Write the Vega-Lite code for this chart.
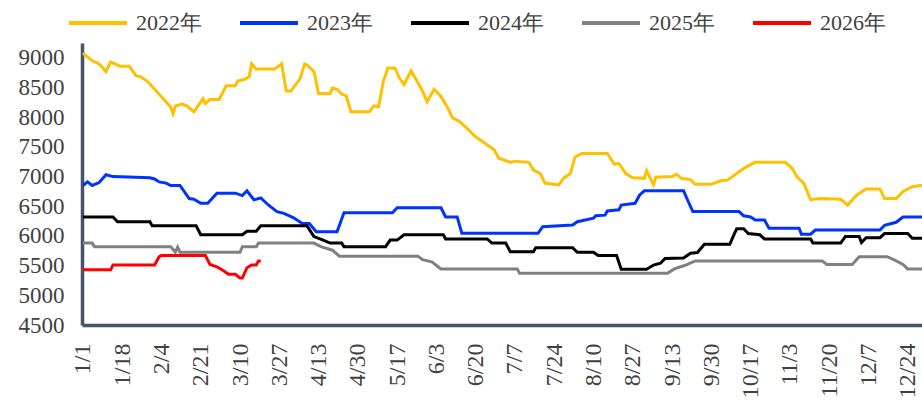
{
  "$schema": "https://vega.github.io/schema/vega-lite/v6.json",
  "width": 840,
  "height": 282,
  "autosize": {"type": "none"},
  "padding": {"left": 82, "top": 43, "right": 0, "bottom": 76},
  "background": "white",
  "config": {"view": {"stroke": null}, "font": "Liberation Serif"},
  "data": {
    "values": [
      {"year": "2022年", "date": "01-01", "price": 9080},
      {"year": "2022年", "date": "01-05", "price": 8950},
      {"year": "2022年", "date": "01-08", "price": 8900},
      {"year": "2022年", "date": "01-11", "price": 8770},
      {"year": "2022年", "date": "01-13", "price": 8930},
      {"year": "2022年", "date": "01-17", "price": 8860},
      {"year": "2022年", "date": "01-21", "price": 8860},
      {"year": "2022年", "date": "01-24", "price": 8700},
      {"year": "2022年", "date": "01-26", "price": 8680},
      {"year": "2022年", "date": "01-29", "price": 8600},
      {"year": "2022年", "date": "02-08", "price": 8170},
      {"year": "2022年", "date": "02-09", "price": 8060},
      {"year": "2022年", "date": "02-10", "price": 8190},
      {"year": "2022年", "date": "02-13", "price": 8220},
      {"year": "2022年", "date": "02-15", "price": 8190},
      {"year": "2022年", "date": "02-18", "price": 8090},
      {"year": "2022年", "date": "02-22", "price": 8310},
      {"year": "2022年", "date": "02-23", "price": 8230},
      {"year": "2022年", "date": "02-25", "price": 8300},
      {"year": "2022年", "date": "03-01", "price": 8300},
      {"year": "2022年", "date": "03-04", "price": 8530},
      {"year": "2022年", "date": "03-08", "price": 8530},
      {"year": "2022年", "date": "03-09", "price": 8610},
      {"year": "2022年", "date": "03-12", "price": 8640},
      {"year": "2022年", "date": "03-14", "price": 8680},
      {"year": "2022年", "date": "03-15", "price": 8900},
      {"year": "2022年", "date": "03-17", "price": 8810},
      {"year": "2022年", "date": "03-25", "price": 8810},
      {"year": "2022年", "date": "03-28", "price": 8900},
      {"year": "2022年", "date": "03-30", "price": 8440},
      {"year": "2022年", "date": "04-01", "price": 8440},
      {"year": "2022年", "date": "04-05", "price": 8650},
      {"year": "2022年", "date": "04-07", "price": 8900},
      {"year": "2022年", "date": "04-08", "price": 8880},
      {"year": "2022年", "date": "04-11", "price": 8770},
      {"year": "2022年", "date": "04-13", "price": 8400},
      {"year": "2022年", "date": "04-18", "price": 8400},
      {"year": "2022年", "date": "04-19", "price": 8490},
      {"year": "2022年", "date": "04-21", "price": 8470},
      {"year": "2022年", "date": "04-23", "price": 8390},
      {"year": "2022年", "date": "04-25", "price": 8360},
      {"year": "2022年", "date": "04-27", "price": 8090},
      {"year": "2022年", "date": "05-05", "price": 8090},
      {"year": "2022年", "date": "05-07", "price": 8190},
      {"year": "2022年", "date": "05-09", "price": 8180},
      {"year": "2022年", "date": "05-11", "price": 8600},
      {"year": "2022年", "date": "05-13", "price": 8830},
      {"year": "2022年", "date": "05-16", "price": 8830},
      {"year": "2022年", "date": "05-18", "price": 8660},
      {"year": "2022年", "date": "05-20", "price": 8550},
      {"year": "2022年", "date": "05-23", "price": 8780},
      {"year": "2022年", "date": "05-25", "price": 8650},
      {"year": "2022年", "date": "05-28", "price": 8440},
      {"year": "2022年", "date": "05-30", "price": 8260},
      {"year": "2022年", "date": "06-02", "price": 8470},
      {"year": "2022年", "date": "06-05", "price": 8350},
      {"year": "2022年", "date": "06-08", "price": 8150},
      {"year": "2022年", "date": "06-10", "price": 7990},
      {"year": "2022年", "date": "06-13", "price": 7930},
      {"year": "2022年", "date": "06-16", "price": 7820},
      {"year": "2022年", "date": "06-20", "price": 7670},
      {"year": "2022年", "date": "06-24", "price": 7560},
      {"year": "2022年", "date": "06-28", "price": 7450},
      {"year": "2022年", "date": "06-30", "price": 7310},
      {"year": "2022年", "date": "07-05", "price": 7240},
      {"year": "2022年", "date": "07-07", "price": 7260},
      {"year": "2022年", "date": "07-13", "price": 7240},
      {"year": "2022年", "date": "07-15", "price": 7110},
      {"year": "2022年", "date": "07-18", "price": 7050},
      {"year": "2022年", "date": "07-20", "price": 6890},
      {"year": "2022年", "date": "07-26", "price": 6860},
      {"year": "2022年", "date": "07-28", "price": 6970},
      {"year": "2022年", "date": "07-31", "price": 7050},
      {"year": "2022年", "date": "08-02", "price": 7330},
      {"year": "2022年", "date": "08-05", "price": 7390},
      {"year": "2022年", "date": "08-16", "price": 7390},
      {"year": "2022年", "date": "08-19", "price": 7210},
      {"year": "2022年", "date": "08-21", "price": 7220},
      {"year": "2022年", "date": "08-24", "price": 7050},
      {"year": "2022年", "date": "08-27", "price": 6980},
      {"year": "2022年", "date": "09-01", "price": 6970},
      {"year": "2022年", "date": "09-02", "price": 7100},
      {"year": "2022年", "date": "09-05", "price": 6860},
      {"year": "2022年", "date": "09-06", "price": 6990},
      {"year": "2022年", "date": "09-13", "price": 7000},
      {"year": "2022年", "date": "09-15", "price": 7040},
      {"year": "2022年", "date": "09-17", "price": 6970},
      {"year": "2022年", "date": "09-21", "price": 6950},
      {"year": "2022年", "date": "09-23", "price": 6870},
      {"year": "2022年", "date": "09-30", "price": 6870},
      {"year": "2022年", "date": "10-04", "price": 6930},
      {"year": "2022年", "date": "10-07", "price": 6940},
      {"year": "2022年", "date": "10-12", "price": 7080},
      {"year": "2022年", "date": "10-15", "price": 7160},
      {"year": "2022年", "date": "10-19", "price": 7240},
      {"year": "2022年", "date": "11-01", "price": 7240},
      {"year": "2022年", "date": "11-04", "price": 7140},
      {"year": "2022年", "date": "11-06", "price": 7000},
      {"year": "2022年", "date": "11-09", "price": 6890},
      {"year": "2022年", "date": "11-12", "price": 6610},
      {"year": "2022年", "date": "11-16", "price": 6630},
      {"year": "2022年", "date": "11-25", "price": 6620},
      {"year": "2022年", "date": "11-28", "price": 6520},
      {"year": "2022年", "date": "12-02", "price": 6690},
      {"year": "2022年", "date": "12-06", "price": 6790},
      {"year": "2022年", "date": "12-12", "price": 6790},
      {"year": "2022年", "date": "12-14", "price": 6630},
      {"year": "2022年", "date": "12-19", "price": 6630},
      {"year": "2022年", "date": "12-22", "price": 6750},
      {"year": "2022年", "date": "12-26", "price": 6830},
      {"year": "2022年", "date": "12-31", "price": 6860},

      {"year": "2023年", "date": "01-01", "price": 6850},
      {"year": "2023年", "date": "01-03", "price": 6910},
      {"year": "2023年", "date": "01-05", "price": 6850},
      {"year": "2023年", "date": "01-08", "price": 6900},
      {"year": "2023年", "date": "01-11", "price": 7030},
      {"year": "2023年", "date": "01-14", "price": 7000},
      {"year": "2023年", "date": "01-30", "price": 6980},
      {"year": "2023年", "date": "02-01", "price": 6960},
      {"year": "2023年", "date": "02-03", "price": 6910},
      {"year": "2023年", "date": "02-06", "price": 6890},
      {"year": "2023年", "date": "02-08", "price": 6850},
      {"year": "2023年", "date": "02-12", "price": 6850},
      {"year": "2023年", "date": "02-16", "price": 6630},
      {"year": "2023年", "date": "02-18", "price": 6620},
      {"year": "2023年", "date": "02-21", "price": 6550},
      {"year": "2023年", "date": "02-24", "price": 6550},
      {"year": "2023年", "date": "02-28", "price": 6720},
      {"year": "2023年", "date": "03-08", "price": 6720},
      {"year": "2023年", "date": "03-11", "price": 6680},
      {"year": "2023年", "date": "03-13", "price": 6760},
      {"year": "2023年", "date": "03-16", "price": 6610},
      {"year": "2023年", "date": "03-19", "price": 6640},
      {"year": "2023年", "date": "03-22", "price": 6530},
      {"year": "2023年", "date": "03-26", "price": 6410},
      {"year": "2023年", "date": "03-29", "price": 6380},
      {"year": "2023年", "date": "04-02", "price": 6310},
      {"year": "2023年", "date": "04-06", "price": 6210},
      {"year": "2023年", "date": "04-09", "price": 6210},
      {"year": "2023年", "date": "04-12", "price": 6070},
      {"year": "2023年", "date": "04-21", "price": 6070},
      {"year": "2023年", "date": "04-24", "price": 6390},
      {"year": "2023年", "date": "05-15", "price": 6390},
      {"year": "2023年", "date": "05-17", "price": 6475},
      {"year": "2023年", "date": "06-05", "price": 6475},
      {"year": "2023年", "date": "06-07", "price": 6320},
      {"year": "2023年", "date": "06-12", "price": 6320},
      {"year": "2023年", "date": "06-14", "price": 6045},
      {"year": "2023年", "date": "07-17", "price": 6045},
      {"year": "2023年", "date": "07-19", "price": 6155},
      {"year": "2023年", "date": "08-01", "price": 6185},
      {"year": "2023年", "date": "08-03", "price": 6240},
      {"year": "2023年", "date": "08-10", "price": 6300},
      {"year": "2023年", "date": "08-11", "price": 6340},
      {"year": "2023年", "date": "08-15", "price": 6350},
      {"year": "2023年", "date": "08-16", "price": 6420},
      {"year": "2023年", "date": "08-21", "price": 6440},
      {"year": "2023年", "date": "08-22", "price": 6520},
      {"year": "2023年", "date": "08-28", "price": 6550},
      {"year": "2023年", "date": "08-30", "price": 6690},
      {"year": "2023年", "date": "09-01", "price": 6760},
      {"year": "2023年", "date": "09-18", "price": 6760},
      {"year": "2023年", "date": "09-20", "price": 6580},
      {"year": "2023年", "date": "09-22", "price": 6410},
      {"year": "2023年", "date": "10-12", "price": 6410},
      {"year": "2023年", "date": "10-14", "price": 6340},
      {"year": "2023年", "date": "10-17", "price": 6320},
      {"year": "2023年", "date": "10-19", "price": 6270},
      {"year": "2023年", "date": "10-23", "price": 6270},
      {"year": "2023年", "date": "10-25", "price": 6130},
      {"year": "2023年", "date": "11-07", "price": 6130},
      {"year": "2023年", "date": "11-08", "price": 6030},
      {"year": "2023年", "date": "11-12", "price": 6030},
      {"year": "2023年", "date": "11-14", "price": 6100},
      {"year": "2023年", "date": "12-12", "price": 6100},
      {"year": "2023年", "date": "12-14", "price": 6180},
      {"year": "2023年", "date": "12-19", "price": 6230},
      {"year": "2023年", "date": "12-22", "price": 6320},
      {"year": "2023年", "date": "12-31", "price": 6320},

      {"year": "2024年", "date": "01-01", "price": 6320},
      {"year": "2024年", "date": "01-14", "price": 6320},
      {"year": "2024年", "date": "01-16", "price": 6240},
      {"year": "2024年", "date": "01-30", "price": 6240},
      {"year": "2024年", "date": "01-31", "price": 6170},
      {"year": "2024年", "date": "02-19", "price": 6170},
      {"year": "2024年", "date": "02-21", "price": 6020},
      {"year": "2024年", "date": "03-11", "price": 6020},
      {"year": "2024年", "date": "03-13", "price": 6080},
      {"year": "2024年", "date": "03-17", "price": 6080},
      {"year": "2024年", "date": "03-19", "price": 6170},
      {"year": "2024年", "date": "04-08", "price": 6170},
      {"year": "2024年", "date": "04-11", "price": 5990},
      {"year": "2024年", "date": "04-15", "price": 5930},
      {"year": "2024年", "date": "04-18", "price": 5880},
      {"year": "2024年", "date": "04-23", "price": 5880},
      {"year": "2024年", "date": "04-24", "price": 5820},
      {"year": "2024年", "date": "05-12", "price": 5820},
      {"year": "2024年", "date": "05-14", "price": 5930},
      {"year": "2024年", "date": "05-17", "price": 5930},
      {"year": "2024年", "date": "05-20", "price": 6020},
      {"year": "2024年", "date": "06-06", "price": 6020},
      {"year": "2024年", "date": "06-07", "price": 5950},
      {"year": "2024年", "date": "06-25", "price": 5950},
      {"year": "2024年", "date": "06-27", "price": 5880},
      {"year": "2024年", "date": "07-03", "price": 5880},
      {"year": "2024年", "date": "07-05", "price": 5735},
      {"year": "2024年", "date": "07-15", "price": 5735},
      {"year": "2024年", "date": "07-16", "price": 5800},
      {"year": "2024年", "date": "08-01", "price": 5800},
      {"year": "2024年", "date": "08-03", "price": 5725},
      {"year": "2024年", "date": "08-10", "price": 5725},
      {"year": "2024年", "date": "08-12", "price": 5670},
      {"year": "2024年", "date": "08-20", "price": 5670},
      {"year": "2024年", "date": "08-22", "price": 5440},
      {"year": "2024年", "date": "09-02", "price": 5440},
      {"year": "2024年", "date": "09-05", "price": 5510},
      {"year": "2024年", "date": "09-08", "price": 5540},
      {"year": "2024年", "date": "09-10", "price": 5620},
      {"year": "2024年", "date": "09-18", "price": 5630},
      {"year": "2024年", "date": "09-21", "price": 5710},
      {"year": "2024年", "date": "09-24", "price": 5720},
      {"year": "2024年", "date": "09-27", "price": 5860},
      {"year": "2024年", "date": "10-08", "price": 5860},
      {"year": "2024年", "date": "10-10", "price": 6040},
      {"year": "2024年", "date": "10-11", "price": 6120},
      {"year": "2024年", "date": "10-14", "price": 6120},
      {"year": "2024年", "date": "10-16", "price": 6040},
      {"year": "2024年", "date": "10-21", "price": 6020},
      {"year": "2024年", "date": "10-23", "price": 5950},
      {"year": "2024年", "date": "11-12", "price": 5950},
      {"year": "2024年", "date": "11-13", "price": 5880},
      {"year": "2024年", "date": "11-25", "price": 5880},
      {"year": "2024年", "date": "11-27", "price": 5990},
      {"year": "2024年", "date": "12-03", "price": 5990},
      {"year": "2024年", "date": "12-04", "price": 5890},
      {"year": "2024年", "date": "12-06", "price": 5970},
      {"year": "2024年", "date": "12-12", "price": 5970},
      {"year": "2024年", "date": "12-14", "price": 6040},
      {"year": "2024年", "date": "12-24", "price": 6040},
      {"year": "2024年", "date": "12-26", "price": 5960},
      {"year": "2024年", "date": "12-31", "price": 5960},

      {"year": "2025年", "date": "01-01", "price": 5880},
      {"year": "2025年", "date": "01-05", "price": 5880},
      {"year": "2025年", "date": "01-06", "price": 5820},
      {"year": "2025年", "date": "02-08", "price": 5820},
      {"year": "2025年", "date": "02-10", "price": 5725},
      {"year": "2025年", "date": "02-11", "price": 5810},
      {"year": "2025年", "date": "02-12", "price": 5725},
      {"year": "2025年", "date": "03-10", "price": 5725},
      {"year": "2025年", "date": "03-11", "price": 5820},
      {"year": "2025年", "date": "03-17", "price": 5820},
      {"year": "2025年", "date": "03-18", "price": 5880},
      {"year": "2025年", "date": "04-11", "price": 5880},
      {"year": "2025年", "date": "04-14", "price": 5820},
      {"year": "2025年", "date": "04-19", "price": 5760},
      {"year": "2025年", "date": "04-22", "price": 5660},
      {"year": "2025年", "date": "05-26", "price": 5660},
      {"year": "2025年", "date": "05-28", "price": 5600},
      {"year": "2025年", "date": "06-01", "price": 5565},
      {"year": "2025年", "date": "06-05", "price": 5445},
      {"year": "2025年", "date": "07-08", "price": 5445},
      {"year": "2025年", "date": "07-09", "price": 5370},
      {"year": "2025年", "date": "09-11", "price": 5370},
      {"year": "2025年", "date": "09-14", "price": 5445},
      {"year": "2025年", "date": "09-19", "price": 5510},
      {"year": "2025年", "date": "09-23", "price": 5580},
      {"year": "2025年", "date": "11-17", "price": 5580},
      {"year": "2025年", "date": "11-19", "price": 5520},
      {"year": "2025年", "date": "11-30", "price": 5520},
      {"year": "2025年", "date": "12-03", "price": 5650},
      {"year": "2025年", "date": "12-15", "price": 5650},
      {"year": "2025年", "date": "12-18", "price": 5600},
      {"year": "2025年", "date": "12-22", "price": 5520},
      {"year": "2025年", "date": "12-24", "price": 5445},
      {"year": "2025年", "date": "12-31", "price": 5445},

      {"year": "2026年", "date": "01-01", "price": 5430},
      {"year": "2026年", "date": "01-13", "price": 5430},
      {"year": "2026年", "date": "01-14", "price": 5510},
      {"year": "2026年", "date": "02-01", "price": 5510},
      {"year": "2026年", "date": "02-03", "price": 5650},
      {"year": "2026年", "date": "02-04", "price": 5670},
      {"year": "2026年", "date": "02-23", "price": 5670},
      {"year": "2026年", "date": "02-25", "price": 5520},
      {"year": "2026年", "date": "02-28", "price": 5480},
      {"year": "2026年", "date": "03-03", "price": 5410},
      {"year": "2026年", "date": "03-05", "price": 5355},
      {"year": "2026年", "date": "03-08", "price": 5355},
      {"year": "2026年", "date": "03-10", "price": 5290},
      {"year": "2026年", "date": "03-11", "price": 5290},
      {"year": "2026年", "date": "03-13", "price": 5465},
      {"year": "2026年", "date": "03-15", "price": 5510},
      {"year": "2026年", "date": "03-17", "price": 5510},
      {"year": "2026年", "date": "03-18", "price": 5580},
      {"year": "2026年", "date": "03-19", "price": 5580}
    ],
    "format": {"parse": {"date": "utc:'%m-%d'"}}
  },
  "mark": {"type": "line", "strokeWidth": 3, "clip": true},
  "encoding": {
    "x": {
      "field": "date",
      "type": "temporal",
      "scale": {
        "type": "utc",
        "domain": [
          {"year": 1899, "month": 12, "date": 31, "hours": 14, "minutes": 24, "utc": true},
          {"year": 1900, "month": 12, "date": 30, "hours": 4, "minutes": 48, "utc": true}
        ]
      },
      "axis": {
        "title": null,
        "values": [
          {"year": 1900, "month": 1, "date": 1, "utc": true},
          {"year": 1900, "month": 1, "date": 18, "utc": true},
          {"year": 1900, "month": 2, "date": 4, "utc": true},
          {"year": 1900, "month": 2, "date": 21, "utc": true},
          {"year": 1900, "month": 3, "date": 10, "utc": true},
          {"year": 1900, "month": 3, "date": 27, "utc": true},
          {"year": 1900, "month": 4, "date": 13, "utc": true},
          {"year": 1900, "month": 4, "date": 30, "utc": true},
          {"year": 1900, "month": 5, "date": 17, "utc": true},
          {"year": 1900, "month": 6, "date": 3, "utc": true},
          {"year": 1900, "month": 6, "date": 20, "utc": true},
          {"year": 1900, "month": 7, "date": 7, "utc": true},
          {"year": 1900, "month": 7, "date": 24, "utc": true},
          {"year": 1900, "month": 8, "date": 10, "utc": true},
          {"year": 1900, "month": 8, "date": 27, "utc": true},
          {"year": 1900, "month": 9, "date": 13, "utc": true},
          {"year": 1900, "month": 9, "date": 30, "utc": true},
          {"year": 1900, "month": 10, "date": 17, "utc": true},
          {"year": 1900, "month": 11, "date": 3, "utc": true},
          {"year": 1900, "month": 11, "date": 20, "utc": true},
          {"year": 1900, "month": 12, "date": 7, "utc": true},
          {"year": 1900, "month": 12, "date": 24, "utc": true}
        ],
        "format": "%-m/%-d",
        "labelAngle": -90,
        "labelFont": "Liberation Serif",
        "labelFontSize": 24,
        "labelColor": "#404040",
        "labelPadding": 18,
        "labelFlush": false,
        "labelOverlap": false,
        "labelBound": false,
        "ticks": false,
        "tickSize": 0,
        "grid": false,
        "domainColor": "#44546A",
        "domainWidth": 3.5
      }
    },
    "y": {
      "field": "price",
      "type": "quantitative",
      "scale": {"domain": [4500, 9250], "nice": false, "zero": false},
      "axis": {
        "title": null,
        "values": [4500, 5000, 5500, 6000, 6500, 7000, 7500, 8000, 8500, 9000],
        "format": "d",
        "labelFont": "Liberation Serif",
        "labelFontSize": 23,
        "labelColor": "#404040",
        "labelPadding": 18,
        "ticks": false,
        "tickSize": 0,
        "grid": false,
        "domainColor": "#44546A",
        "domainWidth": 3.5
      }
    },
    "color": {
      "field": "year",
      "type": "nominal",
      "scale": {
        "domain": ["2022年", "2023年", "2024年", "2025年", "2026年"],
        "range": ["#FFC000", "#0033FF", "#000000", "#808080", "#FF0000"]
      },
      "legend": {
        "title": null,
        "orient": "none",
        "legendX": -15,
        "legendY": -51,
        "direction": "horizontal",
        "symbolType": "stroke",
        "symbolSize": 3364,
        "symbolStrokeWidth": 4,
        "labelFont": "Liberation Serif",
        "labelFontSize": 22,
        "labelColor": "#404040",
        "labelOffset": 7,
        "columnPadding": 30,
        "padding": 0
      }
    }
  }
}
